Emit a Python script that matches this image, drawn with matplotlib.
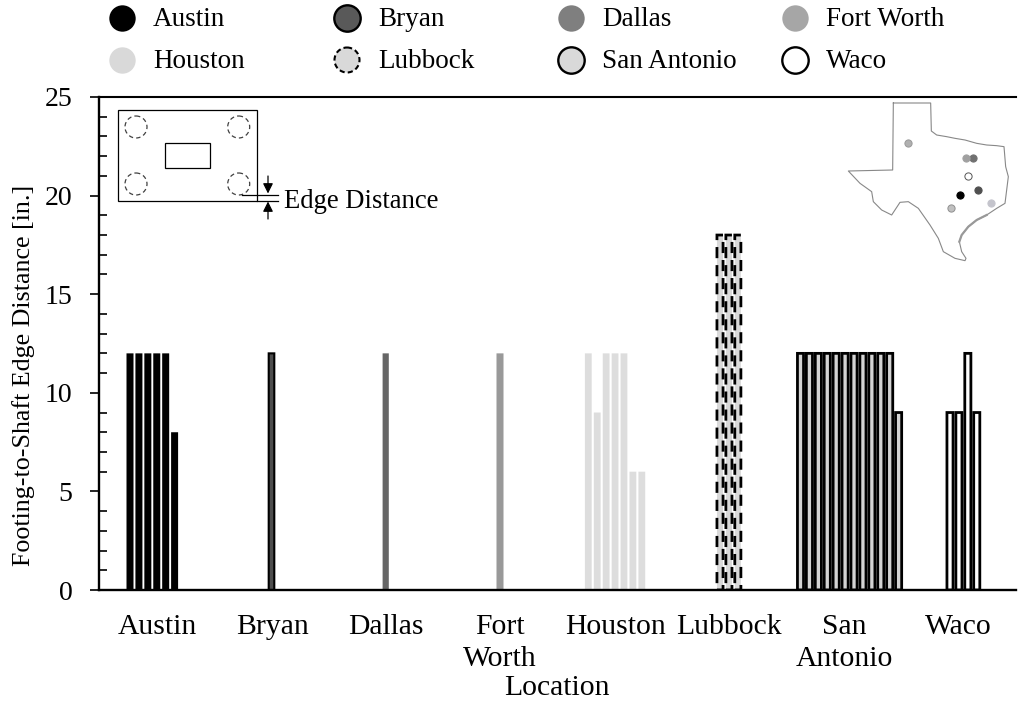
import numpy as np
import matplotlib
matplotlib.use('Agg')
import matplotlib.pyplot as plt

plt.rcParams['font.family'] = ['Liberation Serif', 'DejaVu Sans']

# values
locations = ['Austin', 'Bryan', 'Dallas', 'Fort Worth', 'Houston', 'Lubbock', 'San Antonio', 'Waco']
austin = [12, 12, 12, 12, 12, 8]
bryan = [12]
dallas = [12]
fort_worth = [12]
houston = [12, 9, 12, 12, 12, 6, 6]
lubbock = [18, 18, 18]
san_antonio = [12, 12, 12, 12, 12, 12, 12, 12, 12, 12, 12, 9]
waco = [9, 9, 12, 9]
series = [austin, bryan, dallas, fort_worth, houston, lubbock, san_antonio, waco]

tick_labels = ['Austin', 'Bryan', 'Dallas', 'Fort\nWorth', 'Houston', 'Lubbock', 'San\nAntonio', 'Waco']

# layout: pixels of the original picture
W, H = 1020, 702
L, R, T, B = 99.5, 1016, 97, 590
slot = 8.92
first_bar_px = [130, 271.5, 385.7, 500, 588.3, 720, 800.5, 950]
label_px = [157, 272, 386, 500, 615, 729, 844, 958]

# (style, bar width)
styles = [
    (dict(color='black', edgecolor='black', linewidth=0), 7.0),
    (dict(color='#4d4d4d', edgecolor='black', linewidth=1.5), 5.6),
    (dict(color='#666666', edgecolor='#666666', linewidth=0), 6.2),
    (dict(color='#999999', edgecolor='#999999', linewidth=0), 7.0),
    (dict(color='#dddddd', edgecolor='#dddddd', linewidth=0), 6.8),
    (dict(color='#d9d9d9', edgecolor='black', linewidth=2.0, linestyle=(0, (4, 2.5))), 6.1),
    (dict(color='#d4d4d4', edgecolor='black', linewidth=2.0), 6.1),
    (dict(color='white', edgecolor='black', linewidth=2.0), 6.1),
]
marker_styles = [
    dict(mfc='black', mec='black', mew=0),
    dict(mfc='#595959', mec='black', mew=1.7),
    dict(mfc='#7f7f7f', mec='#7f7f7f', mew=0),
    dict(mfc='#a6a6a6', mec='#a6a6a6', mew=0),
    dict(mfc='#d9d9d9', mec='#d9d9d9', mew=0),
    dict(mfc='#d9d9d9', mec='black', mew=1.5),
    dict(mfc='#d9d9d9', mec='black', mew=1.7),
    dict(mfc='white', mec='black', mew=1.7),
]

fig = plt.figure(figsize=(W / 100, H / 100), dpi=100)
ax = fig.add_axes([L / W, 1 - B / H, (R - L) / W, (B - T) / H])
ax.set_xlim(L, R)
ax.set_ylim(0, 25)

for vals, start, (st, bw) in zip(series, first_bar_px, styles):
    xs = start + slot * np.arange(len(vals))
    ax.bar(xs, vals, width=bw, snap=False, **st)

ax.spines['top'].set_linewidth(1.5)
ax.spines['left'].set_linewidth(1.7)
ax.spines['bottom'].set_linewidth(1.7)
ax.spines['right'].set_visible(False)

ax.set_yticks(np.arange(0, 26, 5))
ax.set_yticks(np.arange(0, 25, 1), minor=True)
ax.tick_params(axis='y', which='major', direction='out', length=6.5, width=1.2, labelsize=20, pad=13)
ax.tick_params(axis='y', which='minor', direction='in', length=6, width=1.2)
ax.set_xticks(label_px)
ax.set_xticklabels(tick_labels, fontsize=21.3, linespacing=1.31)
ax.tick_params(axis='x', length=0, pad=17)

# overlay in picture pixels for axis titles, legend and the two sketches
ov = fig.add_axes([0, 0, 1, 1], facecolor='none')
ov.set_xlim(0, W)
ov.set_ylim(H, 0)
ov.axis('off')

ov.text(24, 375, 'Footing-to-Shaft Edge Distance [in.]', fontsize=18.7, rotation=90, ha='center', va='center')
ov.text(557, 688, 'Location', fontsize=21.3, ha='center', va='center')

# legend
leg_x = [122, 347, 571, 795]
leg_y = [18, 60]
for i, name in enumerate(locations):
    x = leg_x[i % 4]
    y = leg_y[i // 4]
    if name == 'Lubbock':
        ov.add_patch(plt.Circle((x, y), 12.5, fc='#d9d9d9', ec='black', lw=1.5, ls=(0, (2.5, 1.5))))
    else:
        ov.plot([x], [y], 'o', ms=19, **marker_styles[i])
    ov.text(x + 31, y + 2, name, fontsize=19.5, va='center', ha='left')

# footing sketch
ov.add_patch(plt.Rectangle((117.7, 110), 139.6, 90.7, fc='none', ec='black', lw=0.9))
ov.add_patch(plt.Rectangle((165, 143), 45, 24.7, fc='none', ec='black', lw=0.9))
for cx in (136, 238.7):
    for cy in (127, 184):
        ov.add_patch(plt.Circle((cx, cy), 11, fc='none', ec='#404040', lw=0.9, ls=(0, (3.5, 2.5))))
ov.plot([241.7, 278], [194.7, 194.7], color='black', lw=0.9)
ov.plot([257, 278], [200.7, 200.7], color='black', lw=0.9)
ov.annotate('', xy=(268, 193.5), xytext=(268, 176),
            arrowprops=dict(arrowstyle='-|>', color='black', lw=0.9, mutation_scale=15, shrinkA=0, shrinkB=0))
ov.annotate('', xy=(268, 201.5), xytext=(268, 219),
            arrowprops=dict(arrowstyle='-|>', color='black', lw=0.9, mutation_scale=15, shrinkA=0, shrinkB=0))
ov.text(284, 201, 'Edge Distance', fontsize=19.2, va='center', ha='left')

# Texas outline
tx = np.array([(160, 24), (272, 24), (274, 108), (290, 120), (320, 125), (345, 130), (375, 135), (410, 145),
               (440, 150), (470, 152), (492, 155), (497, 215), (505, 245), (500, 285), (495, 325), (470, 340),
               (440, 360), (410, 375), (385, 395), (365, 420), (358, 440), (365, 470), (378, 490), (375, 497),
               (345, 490), (310, 470), (295, 430), (270, 390), (235, 340), (205, 320), (180, 322), (155, 360),
               (125, 345), (100, 320), (95, 290), (60, 265), (25, 228), (158, 225), (160, 24)], dtype=float)
ov.plot(tx[:, 0] / 3 + 840, tx[:, 1] / 3 + 95, color='#888888', lw=0.8)
ov.plot(tx[16:21, 0] / 3 + 840, tx[16:21, 1] / 3 + 95, color='#999999', lw=1.6)

city_dots = [(361, 300), (414, 284), (398, 188), (378, 189), (452, 323), (204, 144), (333, 338), (385, 243)]
dot_fill = ['black', '#505050', '#707070', '#a0a0a0', '#c4c4cc', '#b0b0b0', '#c0c0c0', 'white']
dot_edge = ['black', '#505050', '#707070', '#a0a0a0', '#c4c4cc', '#999999', '#909090', '#555555']
for (dx, dy), fc, ec in zip(city_dots, dot_fill, dot_edge):
    ov.plot([dx / 3 + 840], [dy / 3 + 95], 'o', ms=5.2, mfc=fc, mec=ec, mew=0.7)

fig.savefig('out.png', dpi=100)
